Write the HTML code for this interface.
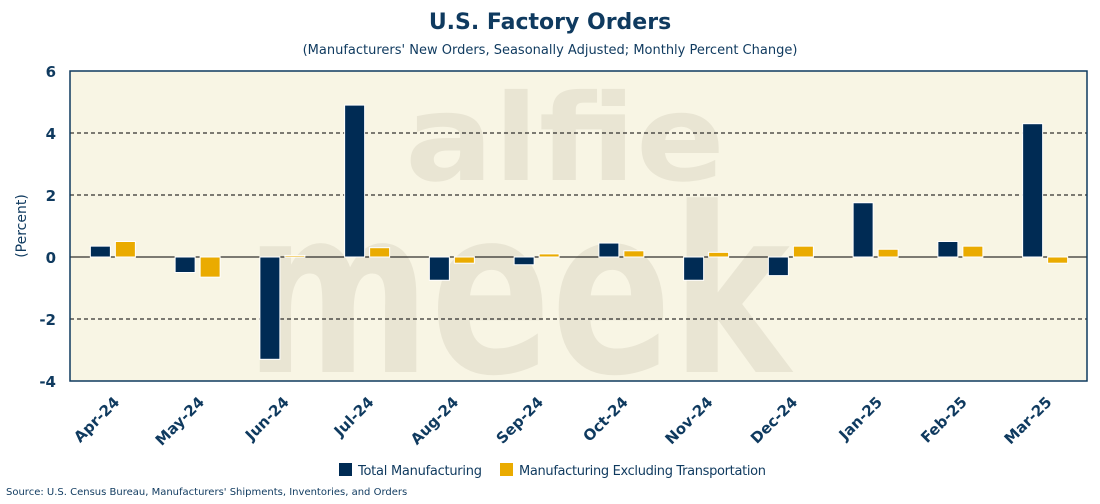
<!DOCTYPE html>
<html><head><meta charset="utf-8"><style>
body{margin:0;width:1100px;height:500px;background:#fff;font-family:"DejaVu Sans","Liberation Sans",sans-serif;overflow:hidden}
</style></head><body>
<svg width="1100" height="500" id="c">
<text x="550" y="29" text-anchor="middle" font-size="22" font-weight="bold" fill="#0f3a5f">U.S. Factory Orders</text>
<text x="550" y="54" text-anchor="middle" font-size="13" fill="#0f3a5f">(Manufacturers' New Orders, Seasonally Adjusted; Monthly Percent Change)</text>
<rect x="70" y="71" width="1017" height="310" fill="#f8f5e4"/>
<g opacity="0.45" fill="#d8d3c0" font-weight="bold">
<text x="405" y="180" font-size="120" textLength="320" lengthAdjust="spacingAndGlyphs">alfie</text>
<text x="245" y="372" font-size="230" textLength="545" lengthAdjust="spacingAndGlyphs">meek</text>
</g>
<g id="grid"></g><g id="bars"></g><g id="ax"></g>
<rect x="70" y="71" width="1017" height="310" fill="none" stroke="#0f3a5f" stroke-width="1.5"/>
<text transform="translate(26,226) rotate(-90)" text-anchor="middle" font-size="14" fill="#0f3a5f">(Percent)</text>
<rect x="339" y="463" width="13" height="13" fill="#002b54"/>
<text x="358" y="475" font-size="13" textLength="124" fill="#0f3a5f">Total Manufacturing</text>
<rect x="500" y="463" width="13" height="13" fill="#eaab00"/>
<text x="519" y="475" font-size="13" textLength="247" fill="#0f3a5f">Manufacturing Excluding Transportation</text>
<text x="6" y="495" font-size="10" fill="#0f3a5f">Source: U.S. Census Bureau, Manufacturers' Shipments, Inventories, and Orders</text>
</svg>
<script>
const categories=["Apr-24","May-24","Jun-24","Jul-24","Aug-24","Sep-24","Oct-24","Nov-24","Dec-24","Jan-25","Feb-25","Mar-25"];
const totalValues=[0.35,-0.5,-3.3,4.9,-0.75,-0.25,0.45,-0.75,-0.6,1.75,0.5,4.3];
const exTransValues=[0.5,-0.65,0.05,0.3,-0.2,0.1,0.2,0.15,0.35,0.25,0.35,-0.2];
const yTicks=[-4,-2,0,2,4,6];
const NS="http://www.w3.org/2000/svg";
const L=70,R=1087,T=71,B=381,ymin=-4,ymax=6;
const y=v=>B-(v-ymin)/(ymax-ymin)*(B-T);
const bw=(R-L)/categories.length;
const x=i=>L+bw*(i+0.5);
function mk(tag,attrs,parent){const e=document.createElementNS(NS,tag);for(const k in attrs)e.setAttribute(k,attrs[k]);document.getElementById(parent).appendChild(e);return e;}
yTicks.forEach(t=>{
  if(t>ymin&&t<ymax&&t!==0){const g=mk('line',{x1:L,x2:R,y1:y(t),y2:y(t),stroke:'#000','stroke-width':1,'stroke-dasharray':'4,3'},'grid');
  
  }
  const tx=mk('text',{x:L-14,y:y(t)+6,'text-anchor':'end','font-size':15,'font-weight':'bold',fill:'#0f3a5f'},'ax');
  tx.textContent=t;
  
  
});
const z=mk('line',{x1:L,x2:R,y1:y(0),y2:y(0),stroke:'#000','stroke-width':1},'grid');


categories.forEach((c,i)=>{
  const cx=x(i);
  [[totalValues[i],'#002b54',-22,'bar-total'],[exTransValues[i],'#eaab00',3,'bar-ex-transport']].forEach(([v,col,off,nm])=>{
    const r=mk('rect',{x:cx+off,width:20,y:Math.min(y(v),y(0)),height:Math.max(1,Math.abs(y(v)-y(0))),fill:col,stroke:'#fff','stroke-width':1},'bars');
    
    
  });
  const t=mk('text',{transform:`translate(${cx+8},${B+22}) rotate(-45)`,'text-anchor':'end','font-size':15,'font-weight':'bold',fill:'#0f3a5f'},'ax');
  t.textContent=c;
  
  
});
</script>
</body></html>
